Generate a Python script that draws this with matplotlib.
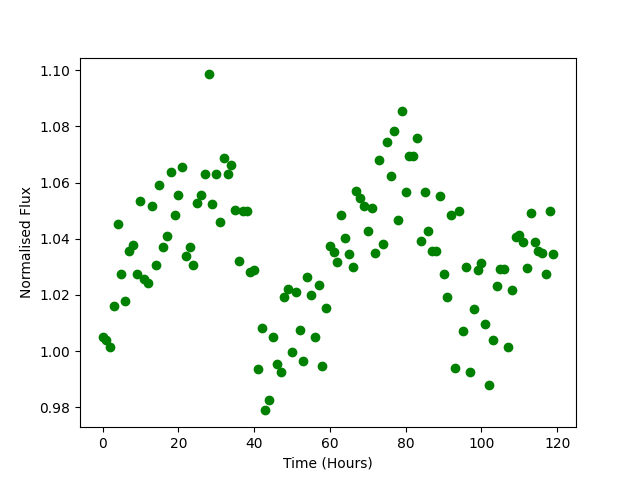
import matplotlib
matplotlib.use('Agg')
import matplotlib.pyplot as plt

# hourly samples
hours = [0, 1, 2, 3, 4, 5, 6, 7, 8, 9, 10, 11, 12, 13, 14, 15, 16, 17, 18, 19,
         20, 21, 22, 23, 24, 25, 26, 27, 28, 29, 30, 31, 32, 33, 34, 35, 36, 37, 38, 39,
         40, 41, 42, 43, 44, 45, 46, 47, 48, 49, 50, 51, 52, 53, 54, 55, 56, 57, 58, 59,
         60, 61, 62, 63, 64, 65, 66, 67, 68, 69, 70, 71, 72, 73, 74, 75, 76, 77, 78, 79,
         80, 81, 82, 83, 84, 85, 86, 87, 88, 89, 90, 91, 92, 93, 94, 95, 96, 97, 98, 99,
         100, 101, 102, 103, 104, 105, 106, 107, 108, 109, 110, 111, 112, 113, 114, 115,
         116, 117, 118, 119]

flux = [1.0049, 1.0038, 1.0013, 1.0162, 1.0454, 1.0276, 1.0180, 1.0358, 1.0376, 1.0273,
        1.0536, 1.0255, 1.0241, 1.0518, 1.0308, 1.0593, 1.0372, 1.0411, 1.0639, 1.0483,
        1.0557, 1.0657, 1.0337, 1.0372, 1.0305, 1.0529, 1.0555, 1.0629, 1.0985, 1.0525,
        1.0629, 1.0461, 1.0689, 1.0632, 1.0664, 1.0504, 1.0322, 1.0497, 1.0500, 1.0281,
        1.0287, 0.9938, 1.0081, 0.9789, 0.9827, 1.0052, 0.9953, 0.9927, 1.0191, 1.0221,
        0.9998, 1.0212, 1.0074, 0.9966, 1.0265, 1.0201, 1.0049, 1.0237, 0.9948, 1.0155,
        1.0373, 1.0352, 1.0316, 1.0483, 1.0404, 1.0344, 1.0301, 1.0569, 1.0544, 1.0518,
        1.0429, 1.0511, 1.0351, 1.0679, 1.0383, 1.0743, 1.0625, 1.0783, 1.0468, 1.0853,
        1.0565, 1.0696, 1.0696, 1.0760, 1.0391, 1.0565, 1.0429, 1.0355, 1.0355, 1.0551,
        1.0273, 1.0194, 1.0486, 0.9941, 1.0497, 1.0073, 1.0301, 0.9924, 1.0149, 1.0290,
        1.0313, 1.0095, 0.9881, 1.0041, 1.0233, 1.0294, 1.0294, 1.0016, 1.0219, 1.0405,
        1.0413, 1.0387, 1.0297, 1.0491, 1.0388, 1.0355, 1.0351, 1.0276, 1.0497, 1.0347]

plt.figure(figsize=(6.4, 4.8), dpi=100)
plt.plot(hours, flux, 'go')
plt.xlabel('Time (Hours)')
plt.ylabel('Normalised Flux')
plt.savefig('out.png')
